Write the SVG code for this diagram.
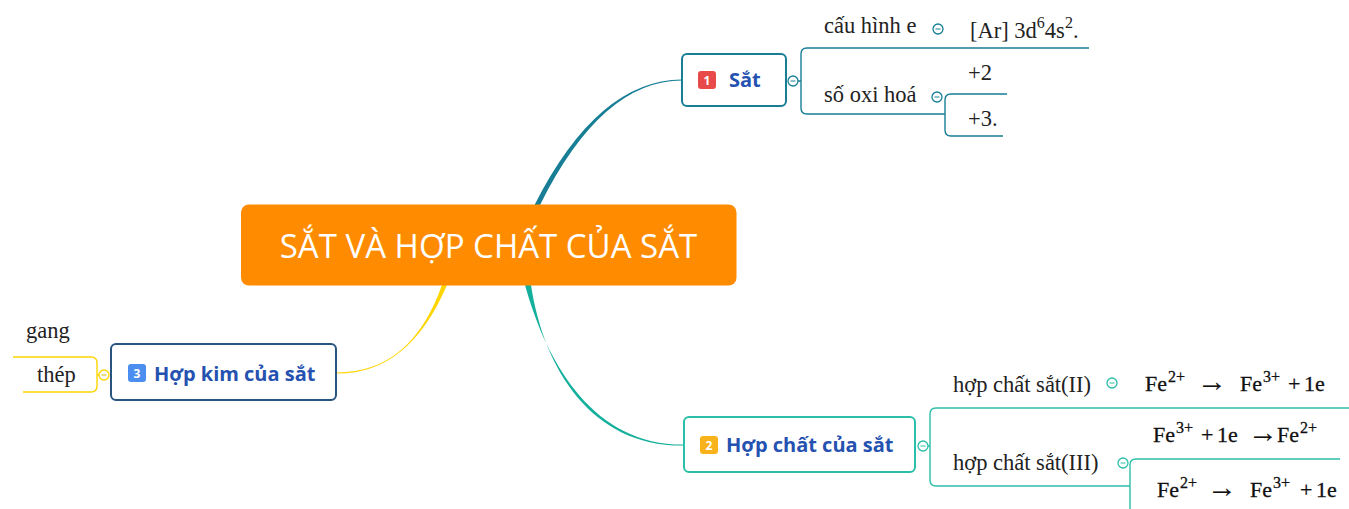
<svg xmlns="http://www.w3.org/2000/svg" width="1349" height="509" viewBox="0 0 1349 509">
<style>
.node{fill:#fff;stroke-width:2}
.main{font-family:"Open Sans","Noto Sans",sans-serif;font-weight:bold;font-size:20px;fill:#2552b0}
.badge{font-family:"Open Sans","Noto Sans",sans-serif;font-weight:bold;font-size:12px;fill:#fff;text-anchor:middle}
.t{font-family:"Liberation Serif","Times New Roman",serif;font-size:22.5px;fill:#222}
.f{font-family:"Liberation Serif","Times New Roman",serif;font-size:22px;fill:#111;stroke:#111;stroke-width:0.3}
.sup{font-size:16px}
.ar{font-size:30px;stroke-width:0.1}
.br{fill:none;stroke-width:1.4}
.c{fill:#fff;stroke-width:1.3}
</style>
<rect width="1349" height="509" fill="#fff"/>
<g id="connectors">
<path d="M534.5,205 Q598,80 682,79.6 L682,80.6 Q602,80.6 540,205 Z" fill="#177e96"/>
<path d="M525,285 C548,368 596,445.4 684,444.6 L684,445.6 C592,446.8 544,370 531,285 Z" fill="#14b09c"/>
<path d="M442,285 Q411,372.6 337,372.4 L337,373.6 Q409,374 447,285 Z" fill="#ffd500"/>
</g>
<g id="central">
<rect x="241" y="204.5" width="495.5" height="81" rx="8" fill="#ff8c00"/>
<text x="488.5" y="258" text-anchor="middle" font-family="'Open Sans','Noto Sans',sans-serif" font-size="33" fill="#fff">SẮT VÀ HỢP CHẤT CỦA SẮT</text>
</g>
<g id="node-sat">
<rect class="node" x="682" y="54" width="104" height="52" rx="5" stroke="#177e96"/>
<rect x="698" y="71" width="18" height="18" rx="3" fill="#e84a4a"/>
<text class="badge" x="707" y="84.5">1</text>
<text class="main" x="729" y="87">Sắt</text>
<path class="br" stroke="#177e96" d="M798,81 H801 M1089,48 H807 Q801,48 801,54 V108 Q801,114 807,114 H945 M1007,94 H951 Q945,94 945,100 V130 Q945,136 951,136 H1003"/>
<circle class="c" cx="793" cy="81" r="5" stroke="#177e96"/>
<line x1="790.5" y1="81" x2="795.5" y2="81" stroke="#177e96" stroke-width="1"/>
<text class="t" x="824" y="33">cấu hình e</text>
<circle class="c" cx="938" cy="29" r="5" stroke="#177e96"/>
<line x1="935.5" y1="29" x2="940.5" y2="29" stroke="#177e96" stroke-width="1"/>
<text class="t" x="970" y="38">[Ar] 3d<tspan class="sup" dy="-10">6</tspan><tspan dy="10">4s</tspan><tspan class="sup" dy="-10">2</tspan><tspan dy="10">.</tspan></text>
<text class="t" x="824" y="102">số oxi hoá</text>
<circle class="c" cx="937" cy="97" r="5" stroke="#177e96"/>
<line x1="934.5" y1="97" x2="939.5" y2="97" stroke="#177e96" stroke-width="1"/>
<text class="t" x="968" y="80">+2</text>
<text class="t" x="968" y="126">+3.</text>
</g>
<g id="node-hopchat">
<rect class="node" x="684" y="417" width="231" height="55" rx="5" stroke="#2bbfa9"/>
<rect x="700" y="436" width="18" height="18" rx="3" fill="#f8b21b"/>
<text class="badge" x="709" y="449.5">2</text>
<text class="main" x="726" y="452">Hợp chất của sắt</text>
<path class="br" stroke="#2bbfa9" d="M927,446 H930 M1349,408 H936 Q930,408 930,414 V480 Q930,486 936,486 H1130 M1340,459 H1136 Q1130,459 1130,465 V509"/>
<circle class="c" cx="923" cy="446" r="5" stroke="#2bbfa9"/>
<line x1="920.5" y1="446" x2="925.5" y2="446" stroke="#2bbfa9" stroke-width="1"/>
<text class="t" x="953" y="392">hợp chất sắt(II)</text>
<circle class="c" cx="1112" cy="383" r="5" stroke="#2bbfa9"/>
<line x1="1109.5" y1="383" x2="1114.5" y2="383" stroke="#2bbfa9" stroke-width="1"/>
<text class="f" y="391"><tspan x="1145">Fe</tspan><tspan class="sup" x="1168" y="382">2+</tspan><tspan class="ar" x="1197" y="391">→</tspan><tspan x="1240">Fe</tspan><tspan class="sup" x="1263" y="382">3+</tspan><tspan x="1288" y="391">+</tspan><tspan x="1304">1e</tspan></text>
<text class="f" y="442"><tspan x="1153">Fe</tspan><tspan class="sup" x="1176" y="433">3+</tspan><tspan x="1201" y="442">+</tspan><tspan x="1217">1e</tspan><tspan class="ar" x="1248">→</tspan><tspan x="1277">Fe</tspan><tspan class="sup" x="1300" y="433">2+</tspan></text>
<text class="t" x="953" y="470">hợp chất sắt(III)</text>
<circle class="c" cx="1123" cy="463" r="5" stroke="#2bbfa9"/>
<line x1="1120.5" y1="463" x2="1125.5" y2="463" stroke="#2bbfa9" stroke-width="1"/>
<text class="f" y="497"><tspan x="1157">Fe</tspan><tspan class="sup" x="1180" y="488">2+</tspan><tspan class="ar" x="1207" y="497">→</tspan><tspan x="1250">Fe</tspan><tspan class="sup" x="1273" y="488">3+</tspan><tspan x="1300" y="497">+</tspan><tspan x="1316">1e</tspan></text>
</g>
<g id="node-hopkim">
<rect class="node" x="111" y="344" width="225" height="56" rx="5" stroke="#285580"/>
<rect x="128" y="364" width="18" height="18" rx="3" fill="#4b8ef0"/>
<text class="badge" x="137" y="377.5">3</text>
<text class="main" x="154" y="381">Hợp kim của sắt</text>
<path class="br" stroke="#ffd500" d="M101,375 H97 M13,357 H91 Q97,357 97,363 V386 Q97,392 91,392 H23"/>
<circle class="c" cx="104" cy="375" r="5" stroke="#ffd500"/>
<line x1="101.5" y1="375" x2="106.5" y2="375" stroke="#d6b400" stroke-width="1"/>
<text class="t" x="26" y="338">gang</text>
<text class="t" x="37" y="382">thép</text>
</g>
</svg>
